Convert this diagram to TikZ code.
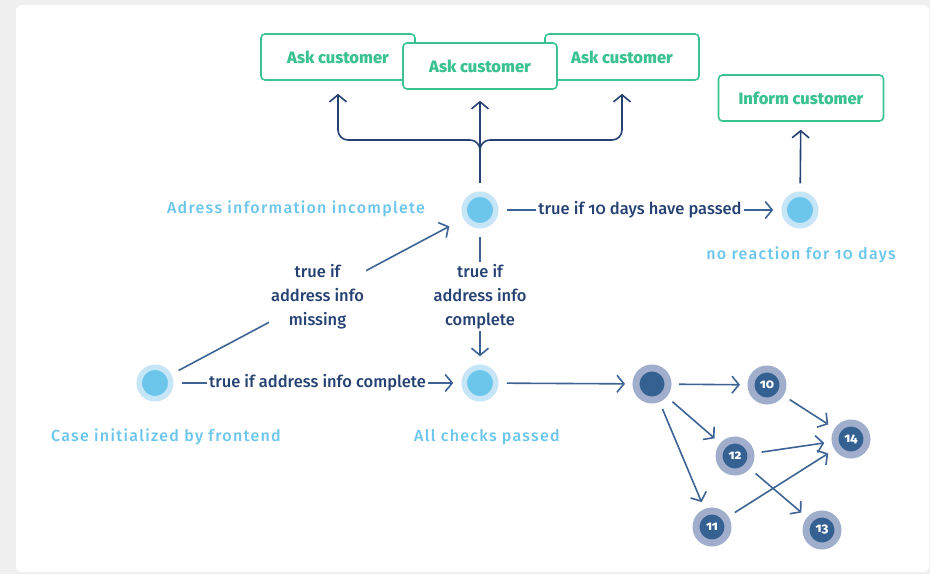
\documentclass[tikz,border=0pt]{standalone}
\usepackage{fontspec}
\setmainfont{Fira Sans}[Numbers=OldStyle, UprightFont={* Medium}]
\usetikzlibrary{arrows.meta}
\definecolor{navy}{RGB}{38, 66, 115}
\definecolor{steel}{RGB}{62, 100, 150}
\definecolor{sky}{RGB}{108, 198, 236}
\definecolor{pale}{RGB}{198, 229, 246}
\definecolor{mint}{RGB}{58, 194, 144}
\definecolor{dusk}{RGB}{160, 174, 204}
\definecolor{deep}{RGB}{52, 96, 146}

\begin{document}
\begin{tikzpicture}[x=1pt, y=-1pt,
taskbox/.style={draw=mint, line width=1.6pt, rounded corners=4pt, fill=white, text=mint, font=\fontsize{16.5}{18}\selectfont\bfseries, minimum width=154pt, minimum height=46pt},
lightnode/.style={circle, fill=sky, draw=pale, line width=5.5pt, minimum size=31.5pt, inner sep=0pt, outer sep=11pt},
darknode/.style={circle, fill=deep, draw=dusk, line width=7pt, minimum size=32pt, inner sep=0pt, outer sep=11pt, text=white, font=\fontsize{13}{13}\selectfont\bfseries},
caption/.style={text=sky, font=\fontsize{16}{18}\selectfont\addfontfeatures{LetterSpace=8}},
cond/.style={fill=white, text=navy, font=\fontsize{16.5}{24}\selectfont, align=center, inner sep=2pt},
topflow/.style={->, >={Straight Barb[length=7pt,width=17pt]}, line width=1.6pt, navy},
lowflow/.style={->, >={Straight Barb[length=7pt,width=17pt]}, line width=1.6pt, steel},
]
\useasboundingbox (0,0) rectangle (930,574);
\fill[gray!12] (0,0) rectangle (930,574);
\fill[white, rounded corners=6pt] (16,5) rectangle (929,572);

%Nodes
\node[taskbox]                      (Ask1)  at (338,57) {Ask customer};
\node[taskbox]                      (Ask3)  at (622,57) {Ask customer};
\node[taskbox]                      (Ask2)  at (480,66) {Ask customer};
\node[taskbox, minimum width=165pt] (Inf)   at (801,98) {Inform customer};

\node[lightnode]  (Adr)   at (480,210) {};
\node[lightnode]  (NoR)   at (800,210) {};
\node[lightnode]  (Case)  at (155,383) {};
\node[lightnode]  (All)   at (480,383) {};

\node[darknode]   (Dk)    at (652,384) {};
\node[darknode]   (N10)   at (767,385) {10};
\node[darknode]   (N12)   at (735,456) {12};
\node[darknode]   (N11)   at (712,527) {11};
\node[darknode]   (N13)   at (822,530) {13};
\node[darknode]   (N14)   at (851,439) {14};

\node[caption] (a) at (296,209) {Adress information incomplete};
\node[caption] (b) at (801,255) {no reaction for 10 days};
\node[caption] (c) at (166,437) {Case initialized by frontend};
\node[caption] (d) at (487,437) {All checks passed};

\coordinate (fork) at (480,150);

\draw[topflow, shorten >=11pt] (Adr) -- (Ask2);
\draw[topflow, rounded corners=10pt, shorten >=13pt] (fork) |- (Ask1.south |- 0,140) -- (Ask1.south);
\draw[topflow, rounded corners=10pt, shorten >=13pt] (fork) |- (Ask3.south |- 0,140) -- (Ask3.south);
\draw[topflow, shorten >=8pt] (NoR) -- (Inf);

\draw[lowflow] (Adr) -- node[cond] {true if 10 days have passed} (NoR);
\draw[lowflow] (Case) -- node[cond] {true if address info complete} (All);
\draw[lowflow, shorten >=8pt] (Case) -- node[cond] {true if\\address info\\missing} (Adr);
\draw[lowflow] (Adr) -- node[cond] {true if\\address info\\complete} (All);
\draw[lowflow] (All) -- (Dk);

\draw[lowflow] (Dk) -- (N10);
\draw[lowflow] (Dk) -- (N12);
\draw[lowflow] (Dk) -- (N11);
\draw[lowflow] (N10) -- (N14);
\draw[lowflow] (N12) -- (N14);
\draw[lowflow] (N12) -- (N13);
\draw[lowflow] (N11) -- (N14);

\end{tikzpicture}
\end{document}
